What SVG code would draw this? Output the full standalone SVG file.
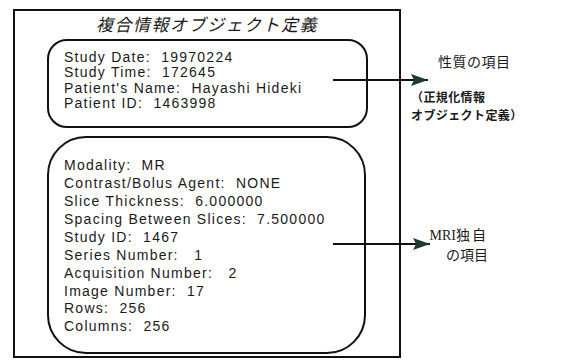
<svg xmlns="http://www.w3.org/2000/svg" width="573" height="364" viewBox="0 0 573 364">
<style>
.box{fill:none;stroke:#111;stroke-width:2}
.t{font-family:"Liberation Sans",Arial,sans-serif;font-size:14px;letter-spacing:1.25px;fill:#1a1a1a;white-space:pre}
.jp{font-family:"Noto Sans CJK JP",sans-serif;fill:#1a1a1a}
.conn{stroke:#111;stroke-width:2;fill:none}
</style>
<defs>
<marker id="ah" viewBox="0 0 17 12" refX="17" refY="6" markerWidth="17" markerHeight="12" markerUnits="userSpaceOnUse" orient="auto">
<path d="M0,0 L17,6 L0,12 L3,6 Z" fill="#1f3a32"/>
</marker>
</defs>
<rect width="573" height="364" fill="#fff"/>
<g id="frame">
<rect class="box" x="14" y="10" width="386" height="347"/>
<text class="jp" x="207" y="31" text-anchor="middle" font-size="17" font-style="italic" letter-spacing="1.5">複合情報オブジェクト定義</text>
</g>
<g id="common-attrs" xml:space="preserve">
<rect class="box" x="48" y="40" width="319" height="87" rx="19" ry="19"/>
<text class="t" x="64" y="62">Study Date:  19970224</text>
<text class="t" x="64" y="77.4">Study Time:  172645</text>
<text class="t" x="64" y="92.8">Patient's Name:  Hayashi Hideki</text>
<text class="t" x="64" y="108.2">Patient ID:  1463998</text>
</g>
<g id="mri-attrs" xml:space="preserve">
<rect class="box" x="48" y="137" width="317" height="216" rx="38" ry="38"/>
<text class="t" x="64" y="170">Modality:  MR</text>
<text class="t" x="64" y="188">Contrast/Bolus Agent:  NONE</text>
<text class="t" x="64" y="206">Slice Thickness:  6.000000</text>
<text class="t" x="64" y="224">Spacing Between Slices:  7.500000</text>
<text class="t" x="64" y="242">Study ID:  1467</text>
<text class="t" x="64" y="260">Series Number:   1</text>
<text class="t" x="64" y="278">Acquisition Number:   2</text>
<text class="t" x="64" y="295.5">Image Number:  17</text>
<text class="t" x="64" y="313">Rows:  256</text>
<text class="t" x="64" y="331">Columns:  256</text>
</g>
<g id="label-property">
<text class="jp" x="438" y="67" font-size="14" letter-spacing="0.5">性質の項目</text>
<text class="jp" x="411" y="102" font-size="12" font-weight="bold" letter-spacing="0.4">（正規化情報</text>
<text class="jp" x="411" y="120" font-size="12" font-weight="bold" letter-spacing="0.4">オブジェクト定義）</text>
</g>
<g id="label-mri">
<text x="488" y="240" font-size="14" text-anchor="end" fill="#1a1a1a"><tspan font-family="'Liberation Serif',serif">MRI</tspan><tspan font-family="'Noto Sans CJK JP',sans-serif" letter-spacing="2">独自</tspan></text>
<text class="jp" x="488" y="260" font-size="14" text-anchor="end">の項目</text>
</g>
<g id="connectors">
<line class="conn" x1="333" y1="80" x2="428" y2="80" marker-end="url(#ah)"/>
<line class="conn" x1="333" y1="244" x2="430" y2="244" marker-end="url(#ah)"/>
</g>
</svg>
